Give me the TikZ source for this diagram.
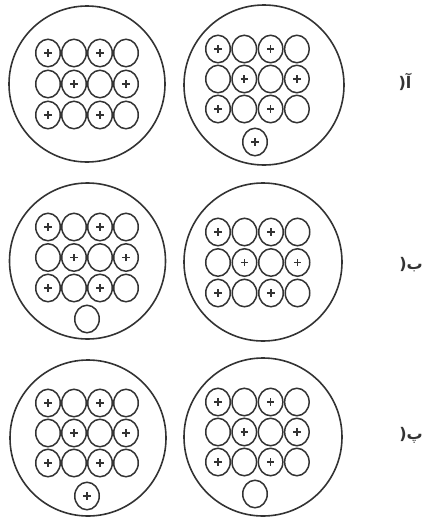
\documentclass[tikz,border=0pt]{standalone}
\usepackage{fontspec}
\usetikzlibrary{shapes.geometric}
\TeXXeTstate=1
\newfontfamily\arabicfont[Script=Arabic]{DejaVu Sans}
\definecolor{ink}{HTML}{333333}
\tikzset{
  big/.style={circle,draw=ink,line width=1.6pt,inner sep=0pt},
  ion/.style={ellipse,draw=ink,line width=1.5pt,minimum width=24.5pt,minimum height=27.5pt,inner sep=0pt},
  cation/.style={ion,path picture={
      \draw[ink,line width=1.7pt]
        ([xshift=-3.6pt]path picture bounding box.center) -- ([xshift=3.6pt]path picture bounding box.center)
        ([yshift=-3.6pt]path picture bounding box.center) -- ([yshift=3.6pt]path picture bounding box.center);}},
  lbl/.style={font=\arabicfont\bfseries\fontsize{16}{16}\selectfont,text=ink}
}
\newcommand{\iongrid}[5]{% name, x0, y0, dx, dy
  \foreach \r in {0,1,2}{
    \foreach \c in {0,1,2,3}{
      \pgfmathtruncatemacro{\parity}{mod(\r+\c,2)}
      \ifnum\parity=0
        \node[cation] (#1-\r-\c) at ({#2+\c*#4},{#3+\r*#5}) {};
      \else
        \node[ion] (#1-\r-\c) at ({#2+\c*#4},{#3+\r*#5}) {};
      \fi
    }
  }
}
\begin{document}
\begin{tikzpicture}[x=1pt,y=-1pt]
\useasboundingbox (0,0) rectangle (431,520);
% row 1
\node[big,minimum size=156pt] (A1) at (87,84) {};
\node[big,minimum size=160pt] (A2) at (264,85) {};
\iongrid{a1}{48}{53}{26}{31}
\iongrid{a2}{218}{49}{26.3}{30}
\node[cation] (a2-x) at (255,142) {};
\node[lbl] (la) at (405,82) {(\beginR آ\endR};
% row 2
\node[big,minimum size=156pt] (B1) at (87.5,261) {};
\node[big,minimum size=158pt] (B2) at (263,262) {};
\iongrid{b1}{48}{227}{26}{30.5}
\iongrid{b2}{218}{232}{26.5}{30.5}
\node[ion] (b1-x) at (87,319) {};
\node[lbl] (lb) at (411,265) {(\beginR ب\endR};
% row 3
\node[big,minimum size=156pt] (C1) at (88,438) {};
\node[big,minimum size=158pt] (C2) at (263,437) {};
\iongrid{c1}{48}{403}{26}{30}
\iongrid{c2}{218}{402}{26.3}{30}
\node[cation] (c1-x) at (87,496) {};
\node[ion] (c2-x) at (255,494) {};
\node[lbl] (lc) at (411,435) {(\beginR پ\endR};
\end{tikzpicture}
\end{document}
